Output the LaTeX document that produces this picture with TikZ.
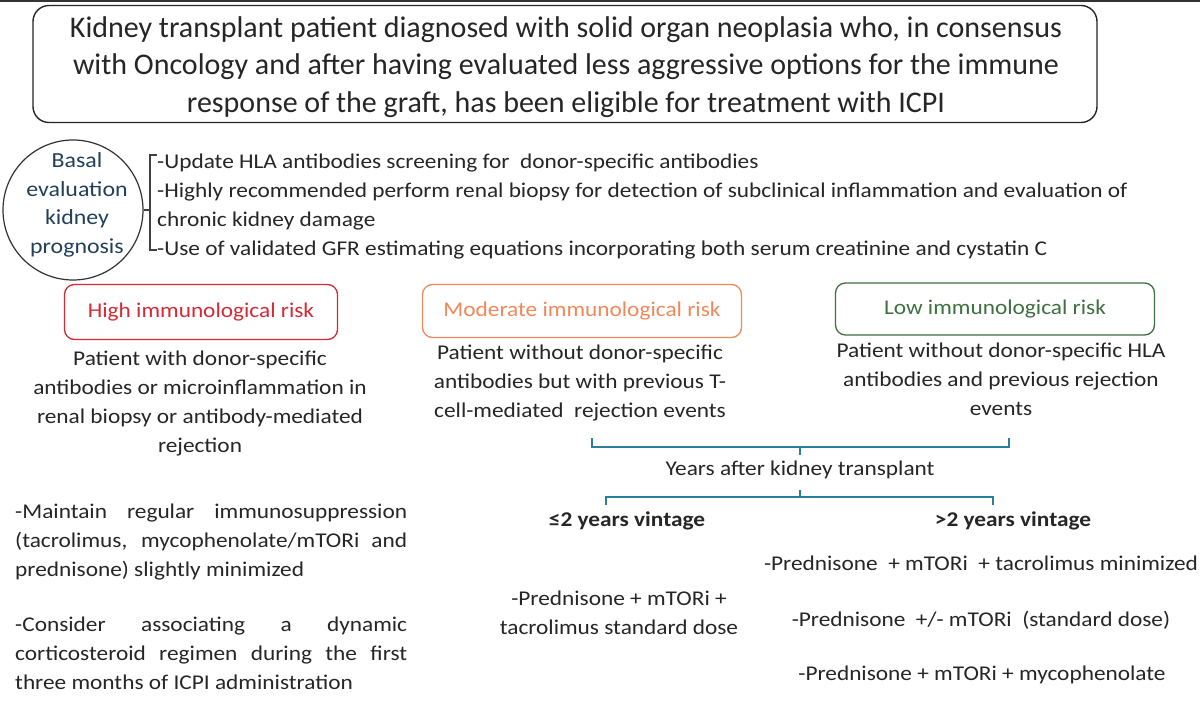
\documentclass[tikz,border=0pt]{standalone}
\usepackage{fontspec}
\setmainfont[FakeStretch=1.11]{Carlito}
\newfontfamily\titlefont[FakeStretch=1.0]{Carlito}
\definecolor{hired}{HTML}{D42A36}
\definecolor{modor}{HTML}{F0895A}
\definecolor{logreen}{HTML}{3E7040}
\definecolor{teal}{HTML}{2B7F9C}
\definecolor{navy}{HTML}{23405A}
\definecolor{txt}{HTML}{262626}
\tikzset{
  body/.style={inner sep=0pt, text=txt, font=\fontsize{21}{29}\selectfont},
  riskbox/.style={draw, line width=1.3pt, rounded corners=10pt, inner sep=0pt, font=\fontsize{21}{25}\selectfont},
  bracebar/.style={draw=teal, line width=1.6pt},
}
\begin{document}
\begin{tikzpicture}[x=1pt,y=-1pt]
\useasboundingbox (0,0) rectangle (1200,711);
\fill[white] (0,0) rectangle (1200,711);
\draw[line width=2pt, draw=black!80] (0,1) -- (1200,1);
% title
\node[draw=black!85, line width=1.4pt, rounded corners=16pt, minimum width=1064pt, minimum height=117pt, inner sep=0pt] (titlebox) at (565,64) {};
\node[inner sep=0pt, align=center, text=txt, font=\titlefont\fontsize{30}{37.5}\selectfont] (title) at (566,67)
 {Kidney transplant patient diagnosed with solid organ neoplasia who, in consensus\\
  with Oncology and after having evaluated less aggressive options for the immune\\
  response of the graft, has been eligible for treatment with ICPI};
% basal evaluation
\node[draw=black!80, line width=1.2pt, circle, minimum size=140pt, inner sep=0pt] (basal) at (73,210) {};
\node[inner sep=0pt, align=center, text=navy, font=\fontsize{21.5}{28.5}\selectfont] (basaltxt) at (77,205)
 {Basal\\evaluation\\kidney\\prognosis};
\coordinate (brtop) at (150,155);
\coordinate (brbot) at (150,250);
\draw[draw=black!75, line width=1.1pt] ([xshift=7pt]brtop) -- (brtop) -- (brbot) -- ([xshift=7pt]brbot);
\draw[draw=black!75, line width=1.1pt] (basal.east) -- (basal.east -| brtop);
\node[body, anchor=north west, align=left] (bullets) at (157,154)
 {-Update HLA antibodies screening for\ \ donor-specific antibodies\\
  -Highly recommended perform renal biopsy for detection of subclinical inflammation and evaluation of\\
  chronic kidney damage\\
  -Use of validated GFR estimating equations incorporating both serum creatinine and cystatin C};
% risk boxes
\node[riskbox, draw=hired, text=hired, minimum width=273pt, minimum height=55pt] (high) at (201,312) {High immunological risk};
\node[riskbox, draw=modor, text=modor, minimum width=319pt, minimum height=53pt] (mod) at (582,311) {Moderate immunological risk};
\node[riskbox, draw=logreen, text=logreen, minimum width=319pt, minimum height=52pt] (low) at (995,309) {Low immunological risk};
\node[body, anchor=north, align=center] (hightxt) at (200,351)
 {Patient with donor-specific\\antibodies or microinflammation in\\renal biopsy or antibody-mediated\\rejection};
\node[body, anchor=north, align=center] (modtxt) at (580,345)
 {Patient without donor-specific\\antibodies but with previous T-\\cell-mediated\ \ rejection events};
\node[body, anchor=north, align=center] (lowtxt) at (1001,343)
 {Patient without donor-specific HLA\\antibodies and previous rejection\\events};
% braces
\coordinate (b1l) at (592,447);
\coordinate (b1r) at (1009,447);
\coordinate (b1m) at (800,447);
\draw[bracebar] ([yshift=9pt]b1l) -- (b1l) -- (b1r) -- ([yshift=9pt]b1r);
\draw[bracebar] (b1m) -- ([yshift=-8pt]b1m);
\node[body, anchor=center] (years) at (800,470) {Years after kidney transplant};
\coordinate (b2l) at (606,497);
\coordinate (b2r) at (993,497);
\coordinate (b2m) at (800,497);
\draw[bracebar] ([yshift=-8pt]b2l) -- (b2l) -- (b2r) -- ([yshift=-8pt]b2r);
\draw[bracebar] (b2m) -- ([yshift=7pt]b2m);
\node[body, font=\bfseries\fontsize{21}{29}\selectfont] (le2) at (627,521) {≤2 years vintage};
\node[body, font=\bfseries\fontsize{21}{29}\selectfont] (gt2) at (1013,521) {>2 years vintage};
% treatments
\node[body, anchor=north west, text width=392pt, align=justify] (maint) at (15,504)
 {-Maintain regular immunosuppression\linebreak (tacrolimus, mycophenolate/mTORi and\linebreak prednisone) slightly minimized};
\node[body, anchor=north west, text width=392pt, align=justify] (cons) at (15,617)
 {-Consider associating a dynamic\linebreak corticosteroid regimen during the first\linebreak three months of ICPI administration};
\node[body, anchor=north, align=center] (le2tx) at (619,591)
 {-Prednisone + mTORi +\\tacrolimus standard dose};
\node[body, anchor=center] (gt2a) at (981,563) {-Prednisone\ \ + mTORi\ \ + tacrolimus minimized};
\node[body, anchor=center] (gt2b) at (981,620) {-Prednisone\ \ +/- mTORi\ \ (standard dose)};
\node[body, anchor=center] (gt2c) at (982,675) {-Prednisone + mTORi + mycophenolate};
\end{tikzpicture}
\end{document}
